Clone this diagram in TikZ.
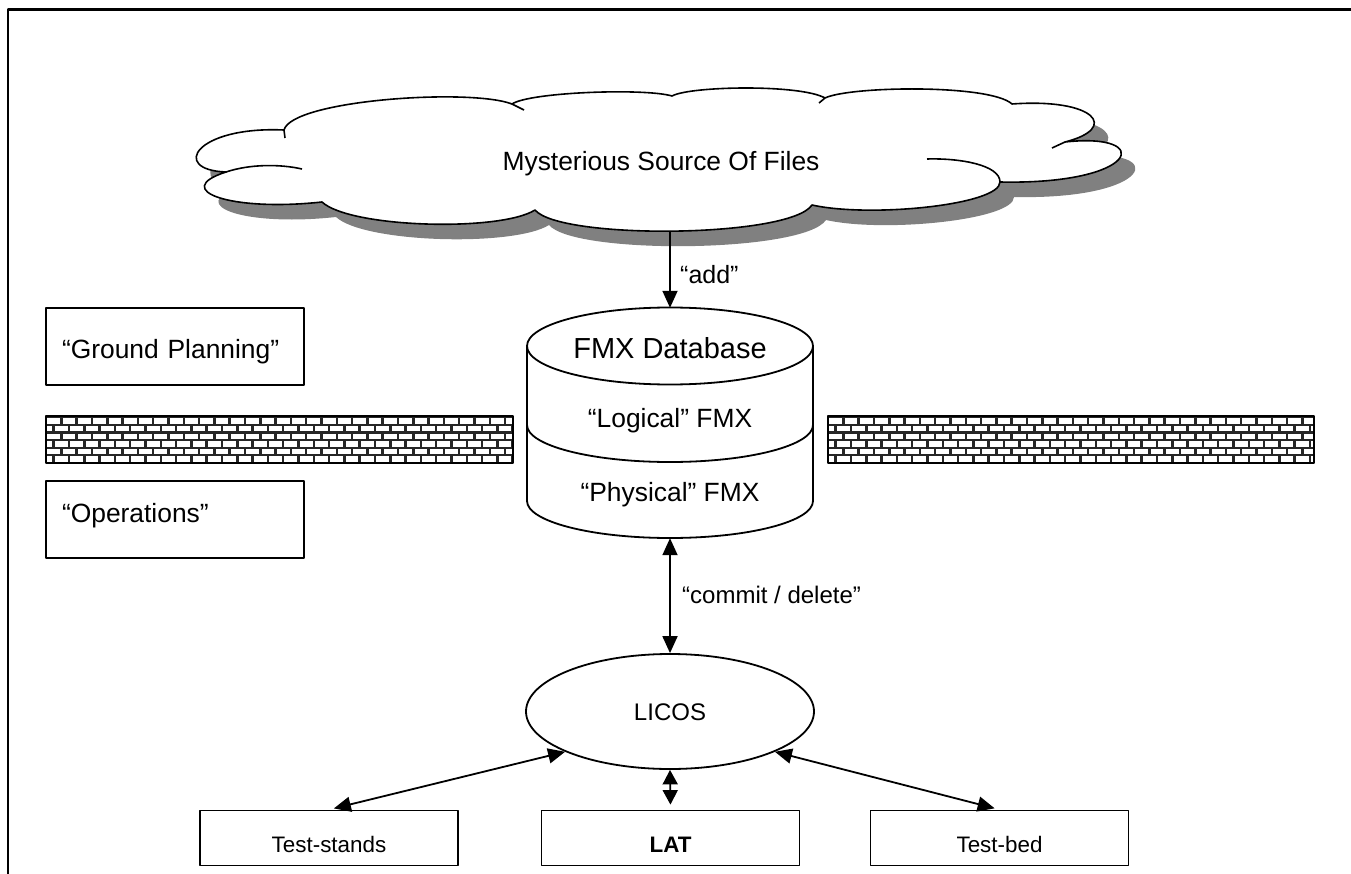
\documentclass[tikz,border=0pt]{standalone}
\usepackage{fontspec}
\setmainfont{Liberation Sans}
\usetikzlibrary{arrows.meta,shapes.geometric}
\newcommand{\brickfill}[4]{%
  \begin{scope}
    \clip (#1,#2) rectangle (#3,#4);
    \fill[black!85] (#1,#2) rectangle (#3,#4);
    \foreach \r in {0,...,6}{
      \foreach \c in {-1,...,33}{
        \pgfmathsetmacro{\bx}{#1 + \c*15.3 + mod(\r,2)*7.65}
        \pgfmathsetmacro{\by}{#2 + 1.2 + \r*7.6}
        \fill[white] (\bx+1.3,\by+1.1) rectangle (\bx+14.1,\by+6.5);
      }
    }
  \end{scope}}
\begin{document}
\begin{tikzpicture}[x=1pt,y=-1pt,line join=round,
  conn/.style={line width=1.8pt,-{Triangle[length=17pt,width=15pt]}},
  dconn/.style={line width=1.8pt,{Triangle[length=17pt,width=15pt]}-{Triangle[length=17pt,width=15pt]}},
  sconn/.style={line width=1.8pt,{Triangle[length=14.5pt,width=15pt]}-{Triangle[length=14.5pt,width=15pt]}},
  big/.style={font=\fontsize{26.4pt}{30pt}\selectfont},
  bigger/.style={font=\fontsize{29pt}{33pt}\selectfont},
  mid/.style={font=\fontsize{24pt}{28pt}\selectfont},
  small/.style={font=\fontsize{22.4pt}{26pt}\selectfont},
  sidebox/.style={draw,line width=1.8pt,minimum width=258pt,minimum height=77pt,
    text width=226pt,inner xsep=16pt,inner ysep=0pt,align=left,big},
  botbox/.style={draw,line width=1.8pt,minimum width=258pt,minimum height=55pt,
    inner sep=0pt,small,text height=28pt,text depth=0pt},
  wall/.style={draw,line width=1.8pt,inner sep=0pt},
  lbl/.style={inner sep=0pt}]
\useasboundingbox (0,0) rectangle (1351,874);
\fill[white] (0,0) rectangle (1351,874);
% frame
\draw[line width=2.6pt] (8,874) -- (8,9.3) -- (1351,9.3);

% cloud
\def\cloudpath{(226,172) .. controls (170,170) and (195,126) .. (284,130)
 .. controls (292,100) and (470,88) .. (512,104)
 .. controls (530,92) and (645,88) .. (672,96)
 .. controls (690,86) and (800,84) .. (825,98)
 .. controls (850,86) and (990,84) .. (1012,104)
 .. controls (1095,98) and (1120,128) .. (1065,142)
 .. controls (1155,132) and (1140,185) .. (1000,182)
 .. controls (1000,205) and (870,218) .. (812,205)
 .. controls (790,238) and (560,240) .. (535,210)
 .. controls (500,232) and (350,228) .. (322,202)
 .. controls (230,212) and (170,190) .. (226,172) -- cycle}
\fill[black!50,shift={(14,15)}] \cloudpath;
\draw[line width=1.6pt,fill=white] \cloudpath;
\draw[line width=1.6pt] (1000,182) .. controls (1000,165) and (960,158) .. (927,159);
\draw[line width=1.6pt] (226,172) .. controls (250,164) and (280,164) .. (302,169);
\draw[line width=1.6pt] (512,104) -- (524,110);
\draw[line width=1.6pt] (1065,142) -- (1052,148);
\draw[line width=1.6pt] (284,130) -- (285,138);
\draw[line width=1.6pt] (825,98) -- (819,103);
\node[lbl,big,anchor=base] (cloudtxt) at (661,171) {Mysterious Source Of Files};
\coordinate (cloudb) at (670,231);

% side boxes
\node[sidebox,text height=25pt,text depth=0pt] (gp) at (175,346.5) {“Ground Planning”};
\node[sidebox,text height=5pt,text depth=0pt] (ops) at (175,519.5) {“Operations”};

% walls
\brickfill{46}{416}{513}{463}
\node[wall,minimum width=467pt,minimum height=47pt] (wallL) at (279.5,439.5) {};
\brickfill{828}{416}{1314}{463}
\node[wall,minimum width=486pt,minimum height=47pt] (wallR) at (1071,439.5) {};

% database cylinder
\node[inner sep=0pt,minimum width=286pt,minimum height=230pt] (db) at (670,423) {};
\draw[line width=1.8pt,fill=white] (527,346) -- (527,501)
  arc[start angle=180,end angle=0,x radius=143,y radius=37] -- (813,346);
\draw[line width=1.8pt,fill=white] (670,346) ellipse[x radius=143,y radius=38.5];
\draw[line width=1.8pt] (527,425) arc[start angle=180,end angle=0,x radius=143,y radius=37];
\node[lbl,bigger,anchor=base] (dbt) at (670,359) {FMX Database};
\node[lbl,big,anchor=base] (logi) at (670,427) {“Logical” FMX};
\node[lbl,big,anchor=base] (phys) at (670,501) {“Physical” FMX};

% LICOS
\node[draw,ellipse,line width=1.8pt,minimum width=288pt,minimum height=115pt,inner sep=0pt] (licos) at (670,711.5) {};
\node[lbl,mid,anchor=base] (licost) at (670,720) {LICOS};

% bottom boxes
\node[botbox] (ts) at (329,838) {Test-stands};
\node[botbox,font=\fontsize{22.4pt}{26pt}\selectfont\bfseries] (lat) at (670.5,838) {LAT};
\node[botbox] (tb) at (999.5,838) {Test-bed};

% connectors
\draw[conn] (cloudb) -- (db.north);
\node[lbl,font=\fontsize{25pt}{29pt}\selectfont,anchor=base west] (addl) at (680,284) {“add”};
\draw[dconn] (db.south) -- (licos.north);
\node[lbl,mid,anchor=base west] (cdl) at (682,603) {“commit / delete”};
\draw[sconn,shorten >=5pt] (licos.south) -- (lat.north);
\draw[dconn,shorten >=5pt] (licos.201) -- (ts.north);
\draw[dconn,shorten >=5pt] (licos.339) -- (tb.north);
\end{tikzpicture}
\end{document}
